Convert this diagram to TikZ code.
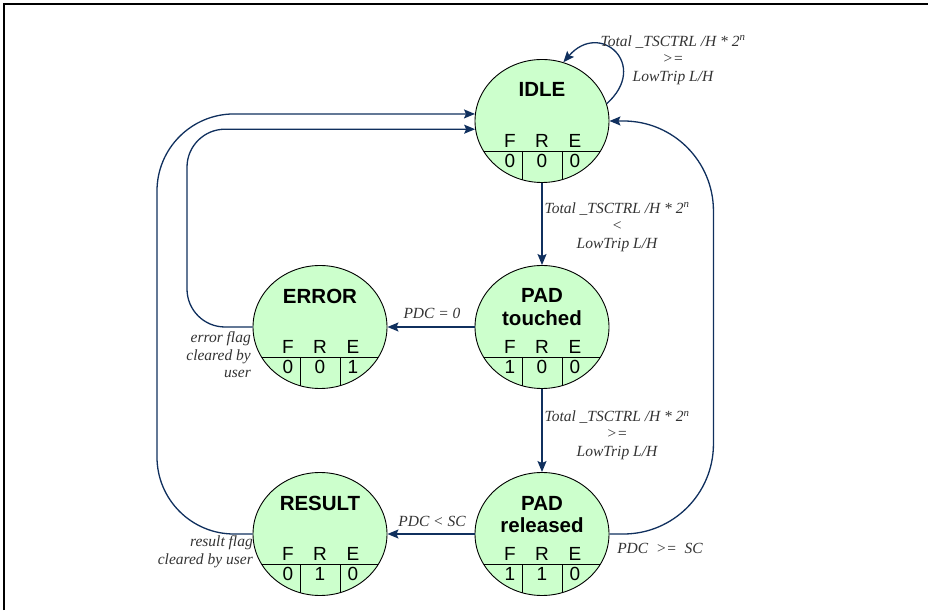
\documentclass[tikz,border=0pt]{standalone}
\usepackage{fontspec}
\setmainfont{Liberation Serif}
\setsansfont{Liberation Sans}
\usetikzlibrary{arrows.meta,shapes.geometric,calc}
\definecolor{navy}{HTML}{10305E}
\definecolor{mint}{HTML}{CCFFCC}
\definecolor{txt}{HTML}{333333}

\tikzset{
  state/.style={ellipse,draw=black,line width=0.9pt,fill=mint,
    minimum width=134pt,minimum height=123pt,inner sep=0pt},
  conn/.style={navy,line width=1.3pt,-{Stealth[length=11pt,width=9pt,inset=2pt]}},
  cond/.style={txt,font=\rmfamily\itshape\fontsize{15.5}{17.5}\selectfont,align=center,inner sep=0pt},
  title/.style={font=\fontsize{20.5}{22}\selectfont\sffamily\bfseries,align=center,
    anchor=north,inner sep=0pt},
  bit/.style={font=\fontsize{19}{19}\selectfont\sffamily,anchor=base,inner sep=0pt}
}

\begin{document}
\begin{tikzpicture}[x=1pt,y=1pt]
  \useasboundingbox (0,0) rectangle (928,610);
  \draw[line width=2pt] (3.5,0) -- (3.5,606) -- (928,606);

  % states
  \node[state] (idle) at (542,489) {};
  \node[state] (touched) at (542,283) {};
  \node[state] (released) at (542,76) {};
  \node[state] (err) at (320,283) {};
  \node[state] (result) at (320,76) {};

  % names and flag table
  \foreach \s/\nm/\vf/\vr/\ve in {idle/IDLE/0/0/0, touched/{PAD\\touched}/1/0/0,
      released/{PAD\\released}/1/1/0, err/ERROR/0/0/1, result/RESULT/0/1/0}
  {
    \node[title] (\s-t) at ($(\s)+(0,38.3)$) {\nm};
    \node[bit] (\s-fl) at ($(\s)+(-32,-26.8)$) {F};
    \node[bit] (\s-rl) at ($(\s)+(0,-26.8)$) {R};
    \node[bit] (\s-el) at ($(\s)+(33,-26.8)$) {E};
    \node[bit] (\s-fv) at ($(\s)+(-32,-46.8)$) {\vf};
    \node[bit] (\s-rv) at ($(\s)+(0,-46.8)$) {\vr};
    \node[bit] (\s-ev) at ($(\s)+(33,-46.8)$) {\ve};
    \begin{scope}
      \clip (\s) ellipse (67 and 61.5);
      \draw[line width=0.9pt] ($(\s)+(-70,-30)$) -- ($(\s)+(70,-30)$);
      \draw[line width=0.9pt] ($(\s)+(-20,-30)$) -- ($(\s)+(-20,-70)$);
      \draw[line width=0.9pt] ($(\s)+(20,-30)$) -- ($(\s)+(20,-70)$);
    \end{scope}
  }

  % transitions
  \coordinate (eleft) at (187,0);
  \coordinate (rleft) at (157,0);
  \draw[conn] (idle.15) .. controls (650,545) and (600,590) .. (idle.70);
  \draw[conn] (idle.south) -- (touched.north);
  \draw[conn] (touched.south) -- (released.north);
  \draw[conn] (touched.west) -- (err.east);
  \draw[conn] (released.west) -- (result.east);
  \draw[conn,rounded corners=90pt] (released.east) -| ($(idle.east)+(104,0)$) -- (idle.east);
  \draw[conn] (err.west) [rounded corners=38pt] -| (eleft |- idle.187)
    [rounded corners=65pt] -- (idle.187);
  \draw[conn] (result.west) [rounded corners=77pt] -| (rleft |- idle.174)
    [rounded corners=95pt] -- (idle.174);

  % conditions
  \node[cond] (loopc) at (673,550) {Total \_TSCTRL /H * 2\textsuperscript{n}\\>=\\LowTrip L/H};
  \node[cond] (touchc) at (617,383) {Total \_TSCTRL /H * 2\textsuperscript{n}\\<\\LowTrip L/H};
  \node[cond] (releasec) at (617,175) {Total \_TSCTRL /H * 2\textsuperscript{n}\\>=\\LowTrip L/H};
  \node[cond] (zeroc) at (432,297) {PDC = 0};
  \node[cond] (ltc) at (432,89) {PDC < SC};
  \node[cond] (gec) at (660,62) {PDC \ >= \ SC};
  \node[cond,align=right,anchor=east] (errc) at (251,255) {error flag\\cleared by\\user};
  \node[cond,align=right,anchor=east] (resc) at (253,58.5) {result flag\\cleared by user};
\end{tikzpicture}
\end{document}
